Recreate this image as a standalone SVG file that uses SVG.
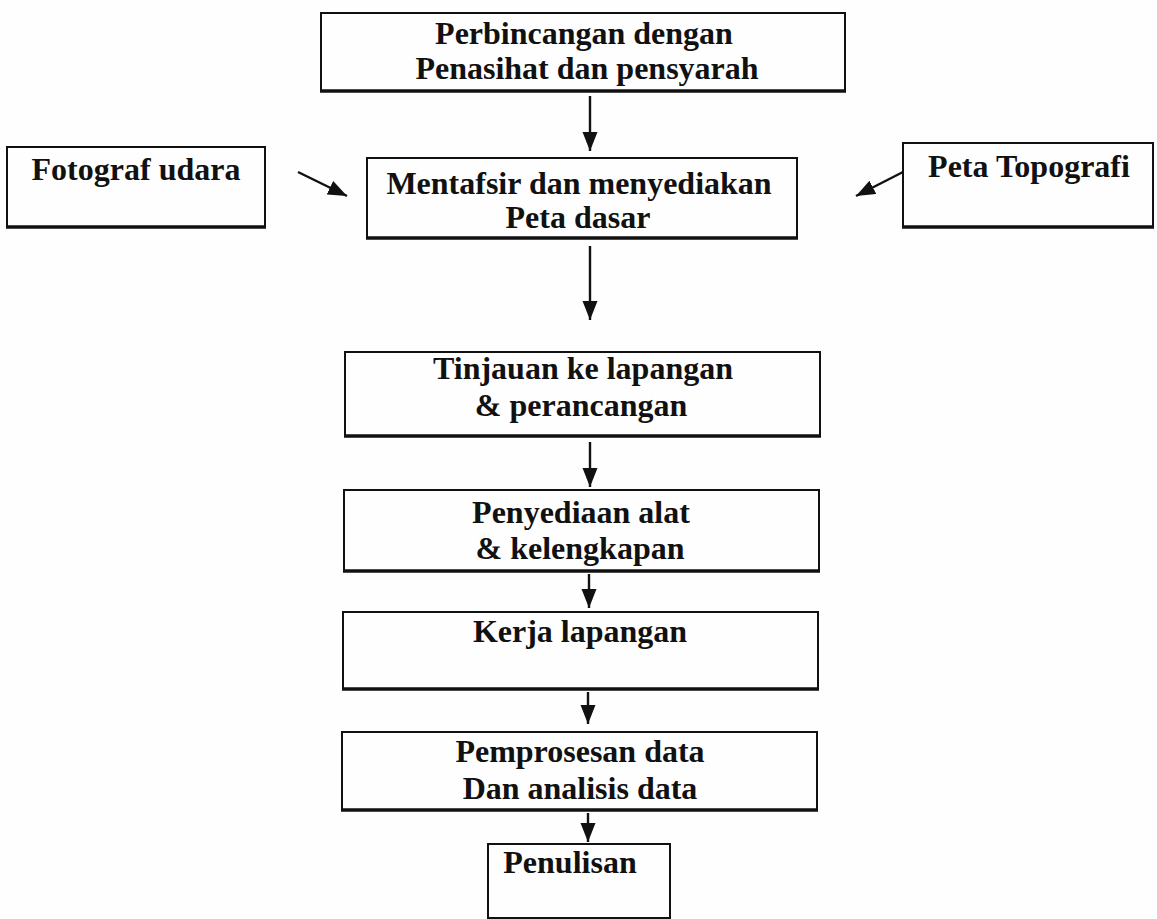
<svg xmlns="http://www.w3.org/2000/svg" width="1157" height="919" viewBox="0 0 1157 919">
<style>
.box{fill:none;stroke:#111;stroke-width:2}
.base{stroke:#111;stroke-width:3.4}
.t{font-family:"Liberation Serif","Times New Roman",serif;font-weight:bold;font-size:32px;fill:#111;text-anchor:middle}
.c{stroke:#111;stroke-width:2.4;fill:none;marker-end:url(#ah)}
</style>
<defs>
<marker id="ah" markerUnits="userSpaceOnUse" markerWidth="20" markerHeight="16" refX="19" refY="8" orient="auto">
<path d="M0,0.5 L19,8 L0,15.5 z" fill="#111"/>
</marker>
</defs>
<rect width="1157" height="919" fill="#fefefe"/>
<g id="n1">
<rect class="box" x="321" y="13" width="524" height="78"/>
<line class="base" x1="320" y1="91" x2="846" y2="91"/>
<text class="t" x="584" y="44">Perbincangan dengan</text>
<text class="t" x="587" y="79">Penasihat dan pensyarah</text>
</g>
<g id="n2">
<rect class="box" x="367" y="158" width="430" height="80"/>
<line class="base" x1="366" y1="238" x2="798" y2="238"/>
<text class="t" x="579" y="194">Mentafsir dan menyediakan</text>
<text class="t" x="578" y="228">Peta dasar</text>
</g>
<g id="n_foto">
<rect class="box" x="7" y="147" width="258" height="80"/>
<line class="base" x1="6" y1="227" x2="266" y2="227"/>
<text class="t" x="136" y="180">Fotograf udara</text>
</g>
<g id="n_topo">
<rect class="box" x="903" y="143" width="250" height="84"/>
<line class="base" x1="902" y1="227" x2="1154" y2="227"/>
<text class="t" x="1029" y="177">Peta Topografi</text>
</g>
<g id="n3">
<rect class="box" x="345" y="352" width="475" height="84"/>
<line class="base" x1="344" y1="436" x2="821" y2="436"/>
<text class="t" x="583" y="379">Tinjauan ke lapangan</text>
<text class="t" x="581" y="416">&amp; perancangan</text>
</g>
<g id="n4">
<rect class="box" x="344" y="490" width="475" height="81"/>
<line class="base" x1="343" y1="571" x2="820" y2="571"/>
<text class="t" x="581" y="523">Penyediaan alat</text>
<text class="t" x="580" y="559">&amp; kelengkapan</text>
</g>
<g id="n5">
<rect class="box" x="343" y="612" width="475" height="77"/>
<line class="base" x1="342" y1="689" x2="819" y2="689"/>
<text class="t" x="580" y="642">Kerja lapangan</text>
</g>
<g id="n6">
<rect class="box" x="342" y="732" width="475" height="78"/>
<line class="base" x1="341" y1="810" x2="818" y2="810"/>
<text class="t" x="580" y="762">Pemprosesan data</text>
<text class="t" x="580" y="799">Dan analisis data</text>
</g>
<g id="n7">
<rect class="box" x="488" y="844" width="182" height="74"/>
<text class="t" x="570" y="873">Penulisan</text>
</g>
<g id="connectors">
<line class="c" x1="590" y1="96" x2="590" y2="151"/>
<line class="c" x1="298" y1="172" x2="347" y2="196"/>
<line class="c" x1="903" y1="172" x2="856" y2="196"/>
<line class="c" x1="590" y1="246" x2="590" y2="320"/>
<line class="c" x1="590" y1="442" x2="590" y2="487"/>
<line class="c" x1="589" y1="574" x2="589" y2="608"/>
<line class="c" x1="588" y1="692" x2="588" y2="724"/>
<line class="c" x1="588" y1="813" x2="588" y2="842"/>
</g>
</svg>
